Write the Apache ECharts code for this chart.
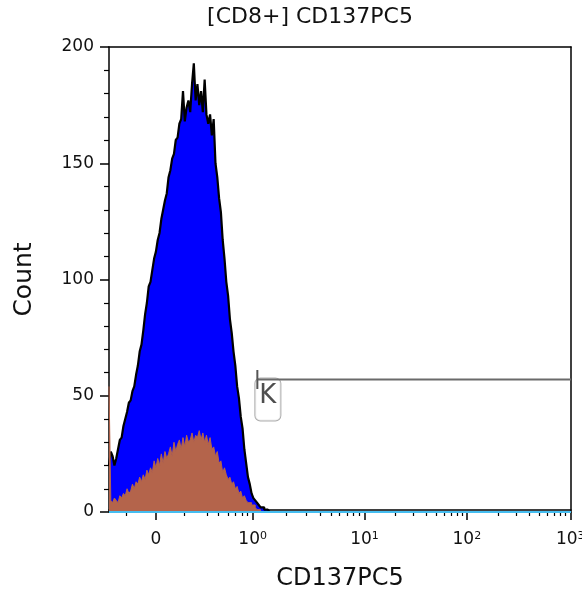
<!DOCTYPE html>
<html>
<head>
<meta charset="utf-8">
<script src="https://cdn.jsdelivr.net/npm/echarts@6/dist/echarts.min.js"></script>
<style>
html,body{margin:0;padding:0;background:#fff;}
#chart{width:582px;height:596px;}
</style>
</head>
<body>
<div id="chart"></div>
<script>
// Histogram counts per display channel bin (256 bins across the x axis)
const blueCounts = [
20,26,24,20,23,27,31,32,37,40,
43,47,48,52,54,59,63,69,72,78,
85,90,97,99,104,109,112,117,120,126,
130,134,137,144,147,152,154,160,161,167,
169,181,168,174,177,172,184,193,177,184,
175,181,172,186,171,167,171,162,169,150,
144,135,129,117,109,99,93,83,77,69,
63,54,49,41,36,27,21,15,12,8,
6,5,4,3,2,2,1,1,1,
0,0,0,0,0,0,0,0,0,0,0,0,0,0,0,0,0,0,0,0,
0,0,0,0,0,0,0,0,0,0,0,0,0,0,0,0,0,0,0,0,
0,0,0,0,0,0,0,0,0,0,0,0,0,0,0,0,0,0,0,0,
0,0,0,0,0,0,0,0,0,0,0,0,0,0,0,0,0,0,0,0,
0,0,0,0,0,0,0,0,0,0,0,0,0,0,0,0,0,0,0,0,
0,0,0,0,0,0,0,0,0,0,0,0,0,0,0,0,0,0,0,0,
0,0,0,0,0,0,0,0,0,0,0,0,0,0,0,0,0,0,0,0,
0,0,0,0,0,0,0,0,0,0,0,0,0,0,0,0,0,0,0,0,
0,0,0,0,0,0,0
];
const brownCounts = [
54,5,4,6,5,4,7,6,8,7,
10,8,9,12,10,13,12,15,13,16,
14,18,16,19,17,22,19,23,20,25,
21,26,23,25,28,24,30,26,29,31,
27,32,28,33,30,31,34,30,33,32,
35,31,34,30,33,29,32,27,28,24,
26,21,22,17,19,16,14,15,12,13,
10,11,8,9,6,7,5,4,4,3,
3,2,1,1,0,
0,0,0,0,0,0,0,0,0,0,0,0,0,0,0,0,0,0,0,0,
0,0,0,0,0,0,0,0,0,0,0,0,0,0,0,0,0,0,0,0,
0,0,0,0,0,0,0,0,0,0,0,0,0,0,0,0,0,0,0,0,
0,0,0,0,0,0,0,0,0,0,0,0,0,0,0,0,0,0,0,0,
0,0,0,0,0,0,0,0,0,0,0,0,0,0,0,0,0,0,0,0,
0,0,0,0,0,0,0,0,0,0,0,0,0,0,0,0,0,0,0,0,
0,0,0,0,0,0,0,0,0,0,0,0,0,0,0,0,0,0,0,0,
0,0,0,0,0,0,0,0,0,0,0,0,0,0,0,0,0,0,0,0,
0,0,0,0,0,0,0,0,0,0,0
];
const cyanCounts = [
0,0,0,0,0,0,0,0,0,0,0,0,0,0,0,0,0,0,0,0,
0,0,0,0,0,0,0,0,0,0,0,0,0,0,0,0,0,0,0,0,
0,0,0,0,0,0,0,0,0,0,0,0,0,0,0,0,0,0,0,0,
0,0,0,0,0,0,0,0,0,0,0,0,0,0,0,0,0,0,0,0,
0,0,0,0,0,0,0,0,0,0,0,0,0,0,0,0,0,0,0,0,
0,0,0,0,0,0,0,0,0,0,0,0,0,0,0,0,0,0,0,0,
0,0,0,0,0,0,0,0,0,0,0,0,0,0,0,0,0,0,0,0,
0,0,0,0,0,0,0,0,0,0,0,0,0,0,0,0,0,0,0,0,
0,0,0,0,0,0,0,0,0,0,0,0,0,0,0,0,0,0,0,0,
0,0,0,0,0,0,0,0,0,0,0,0,0,0,0,0,0,0,0,0,
0,0,0,0,0,0,0,0,0,0,0,0,0,0,0,0,0,0,0,0,
0,0,0,0,0,0,0,0,0,0,0,0,0,0,0,0,0,0,0,0,
0,0,0,0,0,0,0,0,0,0,0,0,0,0,0,0
];
const binCount = 256;

// X axis (display channel units) ticks and labels
const xMajorTicks = [26.0, 79.6, 141.6, 198.3, 255.6];
const xMajorLabels = ['0', '10{s|0}', '10{s|1}', '10{s|2}', '10{s|3}'];
const xMinorTicks = [9.7, 41.8, 54.4, 60.6, 66.0, 70.0, 73.7, 76.5,
  98.3, 109.2, 116.9, 122.9, 127.8, 132.0, 135.5, 138.7,
  158.6, 168.6, 175.7, 181.2, 185.7, 189.5, 192.7, 195.7,
  215.5, 225.6, 232.7, 238.3, 242.8, 246.5, 249.9, 252.8];
const yTicks = [0, 50, 100, 150, 200];

// Gate
const gateName = 'K';
const gateStart = 82.2;
const gateEnd = 256;
const gateLevel = 57;

const titleText = '[CD8+] CD137PC5';
const xName = 'CD137PC5';
const yName = 'Count';

function toSteps(arr) {
  const d = arr.map((v, i) => [i, v]);
  d.push([arr.length, arr[arr.length - 1]]);
  return d;
}

const FONT = 'DejaVu Sans';
const frameLine = {show: true, onZero: false, lineStyle: {color: '#000', width: 1.5}};
const chart = echarts.init(document.getElementById('chart'), null, {renderer: 'canvas'});
chart.setOption({
  animation: false,
  backgroundColor: '#fff',
  textStyle: {fontFamily: FONT},
  title: {
    text: titleText,
    left: 305, top: 1, textAlign: 'center',
    textStyle: {fontFamily: FONT, fontSize: 22, fontWeight: 'normal', color: '#111'}
  },
  grid: {left: 109, right: 11, top: 47, bottom: 84, show: false, containLabel: false, outerBoundsMode: 'none'},
  xAxis: [
    {
      type: 'value', min: 0, max: binCount, position: 'bottom',
      name: xName, nameLocation: 'middle', nameGap: 55,
      nameTextStyle: {fontFamily: FONT, fontSize: 24, color: '#111'},
      axisLine: {show: false, onZero: false},
      splitLine: {show: false},
      axisTick: {show: true, customValues: xMajorTicks, length: 8, lineStyle: {color: '#000', width: 1.5}},
      axisLabel: {
        show: true, customValues: xMajorTicks, margin: 19, hideOverlap: false,
        fontFamily: FONT, fontSize: 17, color: '#111',
        formatter: function (v) {
          let best = 0, bd = 1e9;
          xMajorTicks.forEach((t, i) => { const d = Math.abs(t - v); if (d < bd) { bd = d; best = i; } });
          return xMajorLabels[best];
        },
        rich: {s: {fontSize: 11, verticalAlign: 'top', lineHeight: 11, color: '#111', fontFamily: FONT}}
      }
    },
    {
      type: 'value', min: 0, max: binCount, position: 'bottom',
      axisLine: {show: false, onZero: false}, splitLine: {show: false}, axisLabel: {show: false},
      axisTick: {show: true, customValues: xMinorTicks, length: 4, lineStyle: {color: '#000', width: 1.2}}
    },
    {
      type: 'value', min: 0, max: binCount, position: 'top',
      axisLine: frameLine,
      axisTick: {show: false}, axisLabel: {show: false}, splitLine: {show: false}
    },
    {
      type: 'value', min: 0, max: binCount, position: 'bottom', offset: -2,
      axisLine: frameLine,
      axisTick: {show: false}, axisLabel: {show: false}, splitLine: {show: false}
    }
  ],
  yAxis: [
    {
      type: 'value', min: 0, max: 200, interval: 50, position: 'left',
      name: yName, nameLocation: 'middle', nameGap: 72, nameRotate: 90,
      nameTextStyle: {fontFamily: FONT, fontSize: 25, color: '#111'},
      axisLine: frameLine,
      axisTick: {show: true, length: 9, lineStyle: {color: '#000', width: 1.5}},
      minorTick: {show: true, splitNumber: 5, length: 5, lineStyle: {color: '#000', width: 1.2}},
      splitLine: {show: false},
      axisLabel: {margin: 15, fontFamily: FONT, fontSize: 17, color: '#111'}
    },
    {
      type: 'value', min: 0, max: 200, position: 'right',
      axisLine: frameLine,
      axisTick: {show: false}, axisLabel: {show: false}, splitLine: {show: false}
    }
  ],
  series: [
    {
      type: 'line', xAxisIndex: 0, yAxisIndex: 0, step: 'end',
      data: toSteps(blueCounts), showSymbol: false, symbol: 'none',
      lineStyle: {color: '#000', width: 2.2},
      areaStyle: {color: '#0000FF', opacity: 1},
      z: 2
    },
    {
      type: 'line', xAxisIndex: 0, yAxisIndex: 0, step: 'end',
      data: toSteps(brownCounts), showSymbol: false, symbol: 'none',
      lineStyle: {color: '#B4644B', width: 1},
      areaStyle: {color: '#B4644B', opacity: 1},
      z: 3
    },
    {
      type: 'line', xAxisIndex: 0, yAxisIndex: 0, step: 'end',
      data: toSteps(cyanCounts), showSymbol: false, symbol: 'none',
      lineStyle: {color: '#45BDF0', width: 2},
      z: 4
    },
    {
      type: 'scatter', xAxisIndex: 0, yAxisIndex: 0,
      data: [[gateStart, gateLevel]],
      symbolSize: 0,
      label: {
        show: true, formatter: gateName, position: [-2, -1], align: 'left', verticalAlign: 'top',
        fontFamily: FONT, fontSize: 26, lineHeight: 26, color: '#222',
        backgroundColor: '#fff', borderColor: '#999', borderWidth: 1, borderRadius: 5,
        padding: [5, 4, 11, 4]
      },
      z: 5
    },
    {
      type: 'line', xAxisIndex: 0, yAxisIndex: 0,
      data: [
        {value: [gateStart, gateLevel], symbol: 'rect', symbolSize: [2, 19]},
        {value: [gateEnd, gateLevel], symbol: 'none'}
      ],
      showSymbol: true,
      itemStyle: {color: '#555'},
      lineStyle: {color: '#6a6a6a', width: 2},
      z: 6
    }
  ]
});
</script>
</body>
</html>
